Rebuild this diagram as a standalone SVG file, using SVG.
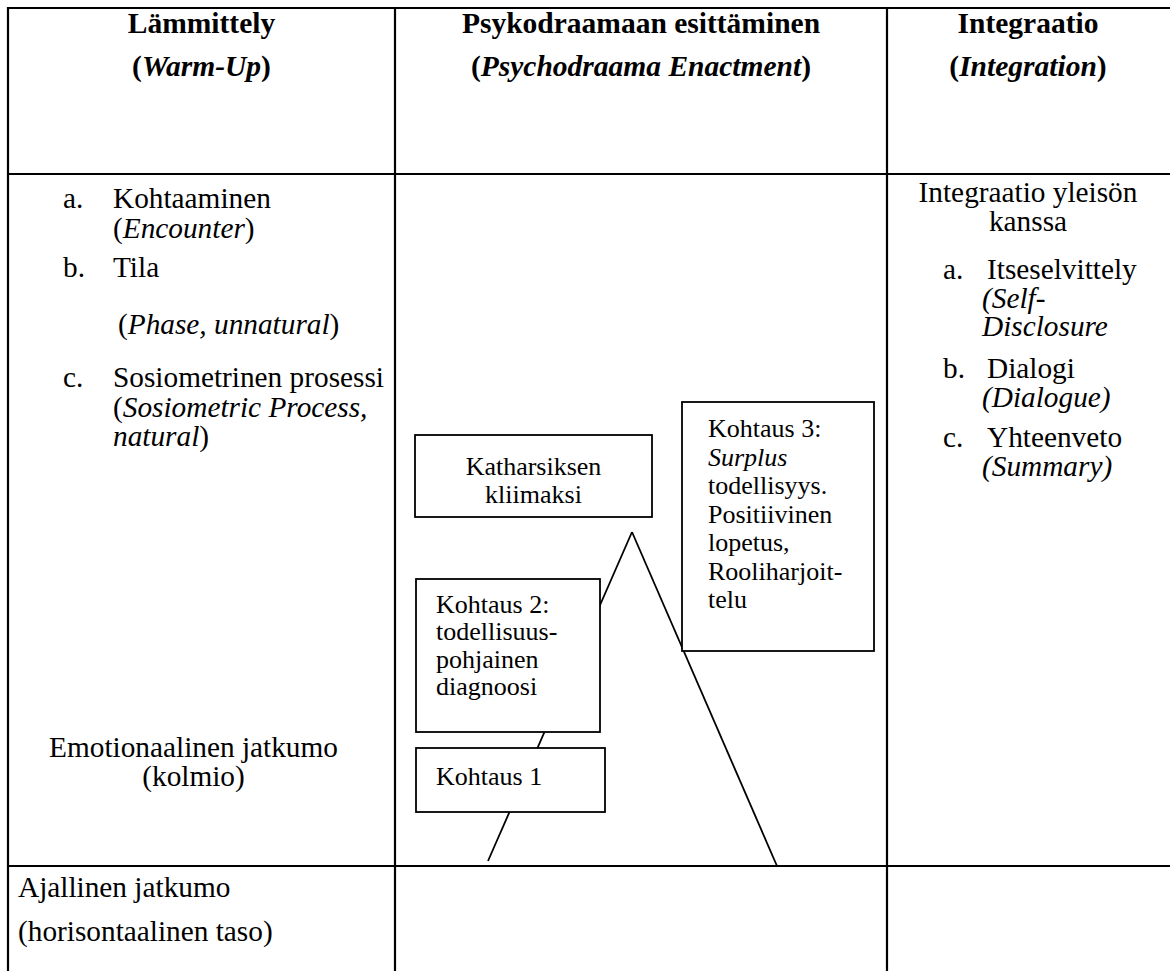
<svg xmlns="http://www.w3.org/2000/svg" width="1170" height="971" viewBox="0 0 1170 971">
  <style>
    text { font-family: "Liberation Serif", Tinos, "Times New Roman", serif; fill: #000; }
    .hd { font-size: 29.5px; font-weight: bold; text-anchor: middle; }
    .tx { font-size: 29.3px; }
    .mid { text-anchor: middle; }
    .bx { font-size: 26px; }
    .it { font-style: italic; }
    .grid { stroke: #000; stroke-width: 2.2; fill: none; }
    .box { fill: #fff; stroke: #000; stroke-width: 1.8; }
    .leg { stroke: #000; stroke-width: 1.8; fill: none; }
  </style>
  <rect width="1170" height="971" fill="#fff"/>

  <!-- table rules -->
  <g id="table" class="grid">
    <line x1="7" y1="8" x2="1170" y2="8"/>
    <line x1="7" y1="174" x2="1170" y2="174"/>
    <line x1="7" y1="866" x2="1170" y2="866"/>
    <line x1="8" y1="7" x2="8" y2="971"/>
    <line x1="395" y1="7" x2="395" y2="971"/>
    <line x1="887" y1="7" x2="887" y2="971"/>
  </g>

  <!-- column headings -->
  <g id="head-warmup">
    <text class="hd" x="201.5" y="33">Lämmittely</text>
    <text class="hd" x="201.5" y="76">(<tspan class="it">Warm-Up</tspan>)</text>
  </g>
  <g id="head-enactment">
    <text class="hd" x="641" y="33">Psykodraamaan esittäminen</text>
    <text class="hd" x="641" y="76">(<tspan class="it">Psychodraama Enactment</tspan>)</text>
  </g>
  <g id="head-integration">
    <text class="hd" x="1028" y="33">Integraatio</text>
    <text class="hd" x="1028" y="76">(<tspan class="it">Integration</tspan>)</text>
  </g>

  <!-- warm-up column -->
  <g id="warmup-list" class="tx">
    <text x="63" y="208">a.</text>
    <text x="113" y="208">Kohtaaminen</text>
    <text x="113" y="237.5">(<tspan class="it">Encounter</tspan>)</text>
    <text x="63" y="277">b.</text>
    <text x="113" y="277">Tila</text>
    <text x="118" y="334">(<tspan class="it">Phase, unnatural</tspan>)</text>
    <text x="63" y="387">c.</text>
    <text x="113" y="387">Sosiometrinen prosessi</text>
    <text x="113" y="416.5">(<tspan class="it">Sosiometric Process,</tspan></text>
    <text x="113" y="446"><tspan class="it">natural</tspan>)</text>
  </g>
  <g id="emotional-axis" class="tx">
    <text class="mid" x="193.5" y="757">Emotionaalinen jatkumo</text>
    <text class="mid" x="193.5" y="786">(kolmio)</text>
  </g>
  <g id="time-axis" class="tx">
    <text x="18" y="897">Ajallinen jatkumo</text>
    <text x="18" y="941">(horisontaalinen taso)</text>
  </g>

  <!-- integration column -->
  <g id="integration-list" class="tx">
    <text class="mid" x="1028" y="202">Integraatio yleisön</text>
    <text class="mid" x="1028" y="231">kanssa</text>
    <text x="943" y="279">a.</text>
    <text x="987" y="279">Itseselvittely</text>
    <text class="it" x="982" y="307.5">(Self-</text>
    <text class="it" x="982" y="336">Disclosure</text>
    <text x="943" y="378">b.</text>
    <text x="987" y="378">Dialogi</text>
    <text class="it" x="982" y="406.5">(Dialogue)</text>
    <text x="943" y="447">c.</text>
    <text x="987" y="447">Yhteenveto</text>
    <text class="it" x="982" y="475.5">(Summary)</text>
  </g>

  <!-- emotional triangle -->
  <g id="connectors">
    <line class="leg" x1="632" y1="532" x2="488" y2="861"/>
    <line class="leg" x1="632" y1="532" x2="777" y2="866"/>
  </g>

  <!-- scene boxes -->
  <g id="climax">
    <rect class="box" x="415" y="435" width="237" height="82"/>
    <text class="bx mid" x="533.5" y="475">Katharsiksen</text>
    <text class="bx mid" x="533.5" y="503">kliimaksi</text>
  </g>
  <g id="scene3">
    <rect class="box" x="682" y="402" width="192" height="249"/>
    <text class="bx" x="708" y="437">Kohtaus 3:</text>
    <text class="bx it" x="708" y="465.5">Surplus</text>
    <text class="bx" x="708" y="494">todellisyys.</text>
    <text class="bx" x="708" y="522.5">Positiivinen</text>
    <text class="bx" x="708" y="551">lopetus,</text>
    <text class="bx" x="708" y="579.5">Rooliharjoit-</text>
    <text class="bx" x="708" y="608">telu</text>
  </g>
  <g id="scene2">
    <rect class="box" x="416" y="579" width="184" height="153"/>
    <text class="bx" x="436" y="613">Kohtaus 2:</text>
    <text class="bx" x="436" y="640">todellisuus-</text>
    <text class="bx" x="436" y="667.5">pohjainen</text>
    <text class="bx" x="436" y="695">diagnoosi</text>
  </g>
  <g id="scene1">
    <rect class="box" x="416" y="748" width="189" height="64"/>
    <text class="bx" x="436" y="785">Kohtaus 1</text>
  </g>
</svg>
